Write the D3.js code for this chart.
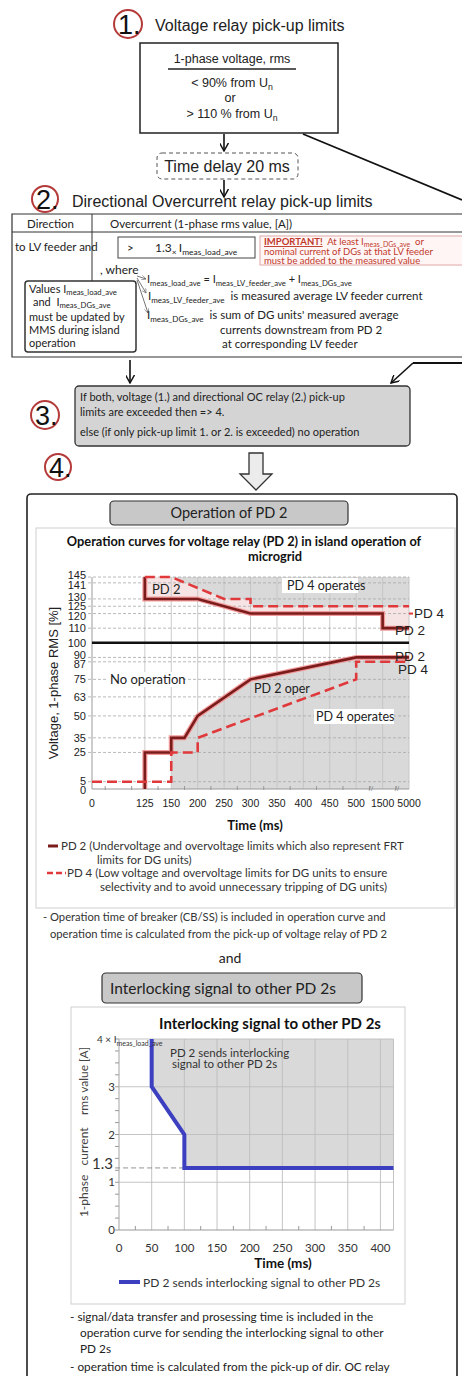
<!DOCTYPE html>
<html><head><meta charset="utf-8">
<script src="https://cdn.jsdelivr.net/npm/d3@7"></script>
<style>body{margin:0;background:#fff}svg{display:block}</style>
</head><body>
<script>
// ---------- DATA ----------
const xTicks1 = [0,125,150,200,250,300,350,400,450,500,1500,5000];
const yTicks1 = [0,5,25,35,50,63,75,87,90,100,110,120,125,130,141,145];
const pd2UpperT = [125,125,200,300,1500,1500,5000];
const pd2UpperV = [145,130,130,120,120,110,110];
const pd4UpperT = [125,150,250,300,300,5000];
const pd4UpperV = [145,145,130,130,125,125];
const pd2LowerT = [125,125,150,150,175,200,300,500,5000];
const pd2LowerV = [0,25,25,35,35,50,75,90,90];
const pd4LowerT = [0,150,150,200,200,500,500,5000];
const pd4LowerV = [5,5,25,25,35,75,87,87];
const xTicks2 = [0,50,100,150,200,250,300,350,400];
const yTicks2 = [0,1,1.3,2,3];
const ilT = [50,50,100,100,420];
const ilV = [4,3,2,1.3,1.3];

// ---------- SETUP ----------
const W=462,H=1376;
const svg=d3.select("body").append("svg").attr("width",W).attr("height",H);
const FA="'Liberation Sans', Arial, sans-serif";
const FC="Lato, 'Open Sans', sans-serif";
const defs=svg.append("defs");
defs.append("marker").attr("id","arr").attr("viewBox","0 0 10 10").attr("refX",9).attr("refY",5)
 .attr("markerWidth",9).attr("markerHeight",9).attr("orient","auto-start-reverse").attr("markerUnits","userSpaceOnUse")
 .append("path").attr("d","M0,0 L9,5 L0,10").attr("fill","none").attr("stroke","#111").attr("stroke-width",1.6);
defs.append("marker").attr("id","arrs").attr("viewBox","0 0 10 10").attr("refX",9).attr("refY",5)
 .attr("markerWidth",5).attr("markerHeight",5).attr("orient","auto").attr("markerUnits","userSpaceOnUse")
 .append("path").attr("d","M0,0 L9,5 L0,10").attr("fill","none").attr("stroke","#666").attr("stroke-width",1.2);

function txt(x,y,s,size,opts={}){
  const t=svg.append("text").attr("x",x).attr("y",y).attr("font-family",opts.f||FC).attr("font-size",size)
   .attr("fill",opts.c||"#222").attr("text-anchor",opts.a||"start").text(s);
  if(opts.w) t.attr("font-weight",opts.w);
  if(opts.u) t.attr("text-decoration","underline");
  return t;
}
function rich(x,y,parts,size,opts={}){
  const t=svg.append("text").attr("x",x).attr("y",y).attr("font-family",opts.f||FC).attr("font-size",size)
   .attr("fill",opts.c||"#222").attr("text-anchor",opts.a||"start").attr("xml:space","preserve");
  let shift=0;
  parts.forEach(p=>{
    const sub=Array.isArray(p);
    const s=sub?p[0]:p;
    const target=sub?size*(opts.sh||0.25):0;
    const ts=t.append("tspan").attr("dy",target-shift).text(s);
    if(sub) ts.attr("font-size",size*0.7);
    shift=target;
  });
  return t;
}
function circ(cx,cy,r,label){
  svg.append("circle").attr("cx",cx).attr("cy",cy).attr("r",r).attr("fill","none").attr("stroke","#b53a3a").attr("stroke-width",2);
  txt(cx-r+4,cy+10,label,27,{f:FA,c:"#111"});
}
function arrow(x1,y1,x2,y2,m="arr",c="#111",w=1.6){
  svg.append("line").attr("x1",x1).attr("y1",y1).attr("x2",x2).attr("y2",y2).attr("stroke",c).attr("stroke-width",w).attr("marker-end",`url(#${m})`);
}

// ---------- 1. ----------
circ(128,24,14,"1.");
txt(155,31,"Voltage relay pick-up limits",16,{f:FA});
svg.append("rect").attr("x",140).attr("y",43).attr("width",198).attr("height",90).attr("fill","#fff").attr("stroke","#222").attr("stroke-width",1.5);
txt(232,63,"1-phase voltage, rms",12.5,{f:FA,a:"middle"});
svg.append("line").attr("x1",168).attr("x2",296).attr("y1",69).attr("y2",69).attr("stroke","#222").attr("stroke-width",1.3);
rich(232,87,["< 90% from U",["n"]],12.5,{f:FA,a:"middle"});
txt(230,102,"or",12.5,{f:FA,a:"middle"});
rich(232,118,["> 110 % from U",["n"]],12.5,{f:FA,a:"middle"});
arrow(224,134,224,151);
svg.append("line").attr("x1",303).attr("y1",134).attr("x2",462).attr("y2",200).attr("stroke","#111").attr("stroke-width",1.8);
svg.append("rect").attr("x",157).attr("y",153).attr("width",141).attr("height",26).attr("rx",5).attr("fill","#fff")
 .attr("stroke","#555").attr("stroke-dasharray","4,3");
txt(227,172,"Time delay 20 ms",16,{f:FA,a:"middle"});
arrow(224,180,224,197);

// ---------- 2. ----------
circ(45,199,13,"2.");
txt(72,207,"Directional Overcurrent relay pick-up limits",16,{f:FA});
svg.append("path").attr("d","M470,214 H12 V357 H470").attr("fill","none").attr("stroke","#333").attr("stroke-width",1.2);
svg.append("line").attr("x1",12).attr("x2",470).attr("y1",232).attr("y2",232).attr("stroke","#333");
svg.append("line").attr("x1",92).attr("x2",92).attr("y1",214).attr("y2",283).attr("stroke","#333");
txt(27,228,"Direction",11.5);
txt(110,228,"Overcurrent (1-phase rms value, [A])",11.5);
txt(15,251,"to LV feeder and",11.5);
svg.append("rect").attr("x",118).attr("y",237).attr("width",137).attr("height",21).attr("fill","#fff").attr("stroke","#444");
txt(127,252,">",11.5);
rich(155,252,["1.3",["× "],"I",["meas_load_ave"]],12);
svg.append("rect").attr("x",260).attr("y",236).attr("width",210).attr("height",29).attr("fill","#fff5f5").attr("stroke","#e0a8a8");
const imp=svg.append("text").attr("x",264).attr("y",245).attr("font-family",FC).attr("font-size",9.5).attr("fill","#c0392b").attr("xml:space","preserve");
imp.append("tspan").attr("text-decoration","underline").attr("font-weight","bold").text("IMPORTANT!");
imp.append("tspan").text("  At least I");
imp.append("tspan").attr("font-size",7).attr("dy",2).text("meas_DGs_ave");
imp.append("tspan").attr("dy",-2).text("  or");
txt(264,255,"nominal current of DGs at that LV feeder",9.5,{c:"#c0392b"});
txt(264,264,"must be added to the measured value",9.5,{c:"#c0392b"});
txt(100,274,", where",12);
svg.append("rect").attr("x",25).attr("y",281).attr("width",111).attr("height",71).attr("rx",3).attr("fill","#fff").attr("stroke","#333").attr("stroke-width",1.5);
rich(29,293,["Values I",["meas_load_ave"]],11,{sh:0.15});
rich(33,306,["and  I",["meas_DGs_ave"]],11,{sh:0.15});
txt(29,321,"must be updated by",11);
txt(29,334,"MMS during island",11);
txt(29,347,"operation",11);
arrow(137,276,146,279,"arrs","#777",1);
arrow(137,278,146,293,"arrs","#777",1);
arrow(137,280,148,313,"arrs","#777",1);
rich(147,283,["I",["meas_load_ave"]," = I",["meas_LV_feeder_ave"]," + I",["meas_DGs_ave"]],11);
rich(148,300,["I",["meas_LV_feeder_ave"],"  is measured average LV feeder current"],11.5);
rich(147,319,["I",["meas_DGs_ave"],"  is sum of DG units' measured average"],11.5);
txt(220,334,"currents downstream from PD 2",11.5);
txt(222,348,"at corresponding LV feeder",11.5);

// ---------- 3. ----------
arrow(130,360,130,383);
svg.append("path").attr("d","M470,363 H413").attr("stroke","#111").attr("stroke-width",1.8).attr("fill","none");
arrow(413,363,391,383);
svg.append("rect").attr("x",75).attr("y",386).attr("width",335).attr("height",60).attr("rx",4).attr("fill","#d4d4d4").attr("stroke","#333").attr("stroke-width",1.3);
txt(80,401,"If both, voltage (1.) and directional OC relay (2.) pick-up",11);
txt(80,416,"limits are exceeded then => 4.",11);
txt(80,436,"else (if only pick-up limit 1. or 2. is exceeded) no operation",11);
circ(45,415,14,"3.");
circ(58,467,13,"4.");
svg.append("path").attr("d","M249,453 H263 V474 H272 L256,490 L240,474 H249 Z").attr("fill","#ececec").attr("stroke","#333").attr("stroke-width",1.3);

// ---------- 4. main box ----------
svg.append("rect").attr("x",27).attr("y",494).attr("width",430).attr("height",920).attr("rx",4).attr("fill","#fff").attr("stroke","#222").attr("stroke-width",1.6);
svg.append("rect").attr("x",110).attr("y",501).attr("width",238).attr("height",24).attr("rx",4).attr("fill","#c8c8c8").attr("stroke","#333").attr("stroke-width",1.2);
txt(229,518,"Operation of PD 2",14.5,{a:"middle"});
svg.append("rect").attr("x",36).attr("y",528).attr("width",419).attr("height",380).attr("fill","#fff").attr("stroke","#cfcfcf");
txt(244,546,"Operation curves for voltage relay (PD 2) in island operation  of",12.8,{a:"middle",w:"bold",c:"#111"});
txt(275,561,"microgrid",12.8,{a:"middle",w:"bold",c:"#111"});

// chart 1 scales
const slot=26.42, x0=92;
const slots1=[0,2,3,4,5,6,7,8,9,10,11,12];
const x1=d3.scaleLinear().domain(xTicks1).range(slots1.map(s=>x0+s*slot));
const y1=d3.scaleLinear().domain([0,145]).range([789,577]);
const g1=svg.append("g");
const pts=(T,V)=>T.map((t,i)=>[t,V[i]]);
// shading
g1.append("path").datum(pts(pd2UpperT,pd2UpperV)).attr("fill","#f6e4e4")
  .attr("d",d3.area().x(d=>x1(d[0])).y0(y1(145)).y1(d=>y1(d[1])));
g1.append("path").datum(pts(pd4UpperT,pd4UpperV)).attr("fill","#d9d9d9")
  .attr("d",d3.area().x(d=>x1(d[0])).y0(y1(145)).y1(d=>y1(d[1])));
g1.append("path").datum(pts(pd2LowerT,pd2LowerV).filter((d,i)=>i>=3)).attr("fill","#d9d9d9")
  .attr("d",d3.area().x(d=>x1(d[0])).y0(y1(0)).y1(d=>y1(d[1])));
// grid
g1.selectAll(".vg").data(xTicks1.slice(1)).join("line").attr("x1",d=>x1(d)).attr("x2",d=>x1(d))
  .attr("y1",y1(145)).attr("y2",y1(0)).attr("stroke","#c4c4c4").attr("stroke-width",0.9);
g1.selectAll(".hg").data(yTicks1.filter(v=>v!==100&&v!==0)).join("line").attr("x1",x1(0)-4).attr("x2",x1(5000))
  .attr("y1",d=>y1(d)).attr("y2",d=>y1(d)).attr("stroke","#a8a8a8").attr("stroke-width",0.8).attr("stroke-dasharray","3,2");
g1.append("line").attr("x1",x1(0)).attr("x2",x1(0)).attr("y1",y1(145)).attr("y2",y1(0)).attr("stroke","#999");
g1.append("line").attr("x1",x1(0)).attr("x2",x1(5000)).attr("y1",y1(0)).attr("y2",y1(0)).attr("stroke","#999");
g1.append("line").attr("x1",x1(0)).attr("x2",x1(5000)).attr("y1",y1(100)).attr("y2",y1(100)).attr("stroke","#111").attr("stroke-width",2.4);
// minor x ticks
d3.range(0,12).forEach(k=>{
  const xx=x0+(k+0.5)*slot;
  g1.append("line").attr("x1",xx).attr("x2",xx).attr("y1",y1(0)-3).attr("y2",y1(0)+1).attr("stroke","#999");
});
[371,397].forEach(xx=>txt(xx,y1(0)+2,"//",8,{c:"#888",a:"middle",f:FA}));
// y labels with de-overlap
const lab=yTicks1.map(v=>({v,y:y1(v)})).sort((a,b)=>a.y-b.y);
for(let it=0;it<40;it++){for(let i=1;i<lab.length;i++){const gap=lab[i].y-lab[i-1].y;if(gap<9.5){const d=(9.5-gap)/2;lab[i].y+=d;lab[i-1].y-=d;}}}
lab.forEach(l=>txt(86,l.y+4,String(l.v),11,{f:FA,a:"end",c:"#222"}));
g1.selectAll(".xl").data(xTicks1).join("text").attr("x",d=>x1(d)).attr("y",807).attr("text-anchor","middle")
  .attr("font-family",FA).attr("font-size",10.5).attr("fill","#222").text(d=>d);
svg.append("text").attr("transform","translate(58,683) rotate(-90)").attr("text-anchor","middle")
  .attr("font-family",FA).attr("font-size",13).attr("fill","#222").text("Voltage, 1-phase RMS [%]");
txt(255,830,"Time (ms)",13,{a:"middle",w:"bold",c:"#111"});
// curves
const line1=d3.line().x(d=>x1(d[0])).y(d=>y1(d[1]));
[[pd2UpperT,pd2UpperV],[pd2LowerT,pd2LowerV]].forEach(([T,V])=>{
  g1.append("path").datum(pts(T,V)).attr("d",line1).attr("fill","none").attr("stroke","#f29a9a").attr("stroke-width",5);
  g1.append("path").datum(pts(T,V)).attr("d",line1).attr("fill","none").attr("stroke","#7a1c1c").attr("stroke-width",2.6);
});
[[pd4UpperT,pd4UpperV],[pd4LowerT,pd4LowerV]].forEach(([T,V])=>{
  g1.append("path").datum(pts(T,V)).attr("d",line1).attr("fill","none").attr("stroke","#e0393b").attr("stroke-width",2.6).attr("stroke-dasharray","10,5");
});
// labels in chart
txt(152,594,"PD 2",13);
const bg=(x,y,w,h)=>svg.append("rect").attr("x",x).attr("y",y).attr("width",w).attr("height",h).attr("fill","#fff");
bg(282,578,76,15); txt(287,590,"PD 4 operates",12.5);
svg.append("line").attr("x1",409).attr("x2",413).attr("y1",y1(120)).attr("y2",y1(120)).attr("stroke","#e0393b").attr("stroke-width",2);
txt(414,618,"PD 4",13.5,{f:FA});
txt(395,635,"PD 2",13.5,{f:FA});
txt(395,661,"PD 2",13.5,{f:FA});
txt(398,674,"PD 4",13.5,{f:FA});
bg(108,672,75,15); txt(110,684,"No operation",13);
txt(254,693,"PD 2 oper",12.5);
bg(314,709,80,15); txt(316,721,"PD 4 operates",12.5);
// legend
svg.append("line").attr("x1",48).attr("x2",58).attr("y1",846).attr("y2",846).attr("stroke","#7a1c1c").attr("stroke-width",3);
txt(61,850,"PD 2 (Undervoltage and overvoltage limits  which also represent FRT",11.5,{c:"#333"});
txt(97,864,"limits for DG units)",11.5,{c:"#333"});
svg.append("line").attr("x1",47).attr("x2",66).attr("y1",873).attr("y2",873).attr("stroke","#e0393b").attr("stroke-width",2.5).attr("stroke-dasharray","6,3");
txt(67,877,"PD 4 (Low voltage and overvoltage limits for DG units to ensure",11.5,{c:"#333"});
txt(100,891,"selectivity and to avoid unnecessary tripping of DG units)",11.5,{c:"#333"});
txt(43,921,"- Operation time of breaker (CB/SS) is included in operation curve and",11.2,{c:"#333"});
txt(50,938,"operation time is  calculated from the pick-up of voltage relay of PD 2",11.2,{c:"#333"});
txt(230,963,"and",14,{a:"middle"});

// ---------- Interlocking ----------
svg.append("rect").attr("x",102).attr("y",973).attr("width",260).attr("height",30).attr("rx",4).attr("fill","#c8c8c8").attr("stroke","#333").attr("stroke-width",1.2);
txt(110,994,"Interlocking signal to other PD 2s",15.5,{c:"#222"});
svg.append("rect").attr("x",71).attr("y",1007).attr("width",334).attr("height",297).attr("fill","#fff").attr("stroke","#cfcfcf");
txt(270,1029,"Interlocking signal to other PD 2s",15,{a:"middle",w:"bold",c:"#111"});
const x2=d3.scaleLinear().domain([0,420]).range([119,393.5]);
const y2=d3.scaleLinear().domain([0,4]).range([1230,1039]);
const g2=svg.append("g");
g2.append("path").attr("fill","#d9d9d9")
  .attr("d",d3.line().x(d=>x2(d[0])).y(d=>y2(d[1]))(pts(ilT,ilV).concat([[420,4]]))+"Z");
g2.selectAll(".v").data(xTicks2.concat([420])).join("line").attr("x1",d=>x2(d)).attr("x2",d=>x2(d))
  .attr("y1",y2(4)).attr("y2",y2(0)).attr("stroke",d=>d===0?"#999":"#bdbdbd").attr("stroke-width",0.9);
g2.selectAll(".h").data([1,2,3,4]).join("line").attr("x1",x2(0)).attr("x2",x2(420))
  .attr("y1",d=>y2(d)).attr("y2",d=>y2(d)).attr("stroke","#bdbdbd").attr("stroke-width",0.9);
g2.append("line").attr("x1",x2(0)).attr("x2",x2(420)).attr("y1",y2(0)).attr("y2",y2(0)).attr("stroke","#999");
g2.selectAll(".my").data(d3.range(0,4.01,0.25)).join("line").attr("x1",x2(0)-4).attr("x2",x2(0))
  .attr("y1",d=>y2(d)).attr("y2",d=>y2(d)).attr("stroke","#999");
g2.selectAll(".mx").data(d3.range(25,420,50)).join("line").attr("x1",d=>x2(d)).attr("x2",d=>x2(d))
  .attr("y1",y2(0)).attr("y2",y2(0)-4).attr("stroke","#999");
g2.append("line").attr("x1",x2(-6)).attr("x2",x2(100)).attr("y1",y2(1.3)).attr("y2",y2(1.3)).attr("stroke","#888").attr("stroke-dasharray","5,3").attr("stroke-width",0.9);
g2.append("path").datum(pts(ilT,ilV)).attr("d",d3.line().x(d=>x2(d[0])).y(d=>y2(d[1]))).attr("fill","none").attr("stroke","#3b3fc0").attr("stroke-width",4);
yTicks2.forEach(v=>{
  const big=v===1.3;
  txt(big?113:115,y2(v)+(big?1:4),String(v),big?15:11.5,{a:"end",c:"#333"});
});
rich(97,1043,["4 × I",["meas_load_ave"]],10,{c:"#333"});
g2.selectAll(".xl").data(xTicks2).join("text").attr("x",d=>x2(d)).attr("y",1252).attr("text-anchor","middle")
  .attr("font-family",FC).attr("font-size",11.5).attr("fill","#333").text(d=>d);
txt(170,1057,"PD 2 sends interlocking",11.5,{c:"#333"});
txt(172,1068,"signal to other PD 2s",11.5,{c:"#333"});
svg.append("text").attr("transform","translate(88,1132) rotate(-90)").attr("text-anchor","middle").attr("xml:space","preserve")
  .attr("font-family",FC).attr("font-size",12).attr("fill","#444").text("1-phase   current    rms value [A]");
txt(283,1268,"Time (ms)",13.5,{a:"middle",w:"bold",c:"#111"});
svg.append("line").attr("x1",119).attr("x2",140).attr("y1",1282).attr("y2",1282).attr("stroke","#3b3fc0").attr("stroke-width",4);
txt(143,1287,"PD 2 sends interlocking signal to other PD 2s",12,{c:"#333"});
txt(70,1321,"- signal/data transfer and prosessing time is included in the",11.8,{c:"#222"});
txt(80,1337,"operation curve for sending the interlocking signal to other",11.8,{c:"#222"});
txt(80,1353,"PD 2s",11.8,{c:"#222"});
txt(70,1371,"- operation time is calculated from the pick-up of dir. OC relay",11.8,{c:"#222"});
</script>
</body></html>
